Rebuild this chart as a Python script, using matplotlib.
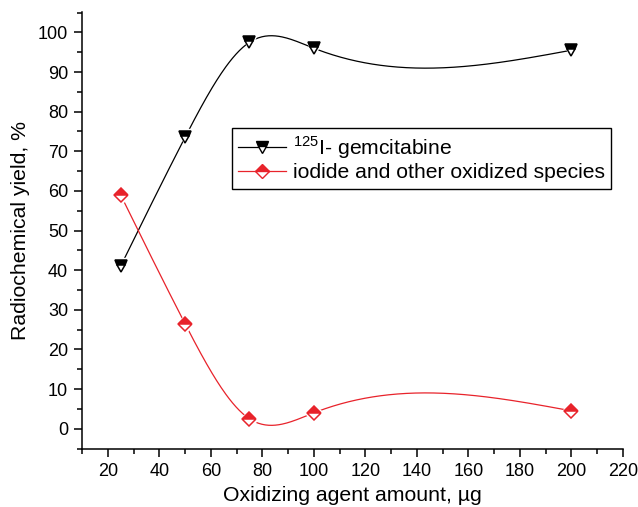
import numpy as np
import matplotlib.pyplot as plt
from matplotlib.lines import Line2D

plt.rcParams['font.family'] = ['Liberation Sans', 'DejaVu Sans']

# data
amount = [25, 50, 75, 100, 200]
gemcitabine = [41, 73.5, 97.5, 96, 95.5]
iodide = [59, 26.5, 2.5, 4, 4.5]

x_ticks = [20, 40, 60, 80, 100, 120, 140, 160, 180, 200, 220]
y_ticks = [0, 10, 20, 30, 40, 50, 60, 70, 80, 90, 100]

RED = '#e8232b'


def natural_spline(x, y, xs):
    # natural cubic spline through the points
    x = np.asarray(x, float)
    y = np.asarray(y, float)
    n = len(x)
    h = np.diff(x)
    A = np.zeros((n, n))
    b = np.zeros(n)
    A[0, 0] = 1
    A[-1, -1] = 1
    for i in range(1, n - 1):
        A[i, i - 1] = h[i - 1]
        A[i, i] = 2 * (h[i - 1] + h[i])
        A[i, i + 1] = h[i]
        b[i] = 6 * ((y[i + 1] - y[i]) / h[i] - (y[i] - y[i - 1]) / h[i - 1])
    M = np.linalg.solve(A, b)
    out = np.empty_like(xs)
    for k, t in enumerate(xs):
        i = min(max(np.searchsorted(x, t) - 1, 0), n - 2)
        a = x[i + 1] - t
        c = t - x[i]
        out[k] = (M[i] * a**3 / (6 * h[i]) + M[i + 1] * c**3 / (6 * h[i])
                  + (y[i] / h[i] - M[i] * h[i] / 6) * a
                  + (y[i + 1] / h[i] - M[i + 1] * h[i] / 6) * c)
    return out


fig = plt.figure(figsize=(6.38, 5.07), dpi=100)
ax = fig.add_axes([0.1285, 0.1138, 0.848, 0.863])

xs = np.linspace(amount[0], amount[-1], 400)

ax.plot(xs, natural_spline(amount, gemcitabine, xs), color='black', lw=0.9, zorder=2)
ax.plot(xs, natural_spline(amount, iodide, xs), color=RED, lw=0.9, zorder=2)

# white halo so the lines stop short of the symbols
ax.plot(amount, gemcitabine, 'v', ms=11.5, color='white', zorder=3)
ax.plot(amount, iodide, 'D', ms=9.5, color='white', zorder=3)

ax.plot(amount, gemcitabine, 'v', ms=9, fillstyle='top', markerfacecolor='black',
        markerfacecoloralt='white', markeredgecolor='black', mew=1.1, zorder=4)
ax.plot(amount, iodide, 'D', ms=7, fillstyle='top', markerfacecolor=RED,
        markerfacecoloralt='white', markeredgecolor=RED, mew=1.1, zorder=4)

ax.set_xlim(10, 220)
ax.set_ylim(-5.2, 105.2)
ax.set_xticks(x_ticks)
ax.set_yticks(y_ticks)
ax.set_xticks(np.arange(10, 221, 10), minor=True)
ax.set_yticks(np.arange(-5, 106, 5), minor=True)

for s in ['top', 'right']:
    ax.spines[s].set_visible(False)
for s in ['left', 'bottom']:
    ax.spines[s].set_linewidth(1.1)

ax.tick_params(which='major', direction='out', length=6, width=1.1, labelsize=13, pad=4)
ax.tick_params(which='minor', direction='out', length=3.5, width=1.1)

ax.set_xlabel('Oxidizing agent amount, µg', fontsize=15.3, labelpad=4)
ax.set_ylabel('Radiochemical yield, %', fontsize=15.3, labelpad=6)

h1 = Line2D([], [], color='black', lw=0.9, marker='v', ms=9, fillstyle='top',
            markerfacecolor='black', markerfacecoloralt='white', markeredgecolor='black')
h2 = Line2D([], [], color=RED, lw=0.9, marker='D', ms=7, fillstyle='top',
            markerfacecolor=RED, markerfacecoloralt='white', markeredgecolor=RED)
leg = ax.legend([h1, h2], [r'$^{\mathregular{125}}$I- gemcitabine', 'iodide and other oxidized species'],
                loc='upper left', bbox_to_anchor=(0.2767, 0.734), borderaxespad=0,
                fontsize=15.2, frameon=True, fancybox=False, framealpha=1,
                handlelength=2.25, handletextpad=0.35, borderpad=0.3, labelspacing=0.1)
leg.get_frame().set_edgecolor('black')
leg.get_frame().set_linewidth(1.0)

fig.savefig('out.png', dpi=100)
